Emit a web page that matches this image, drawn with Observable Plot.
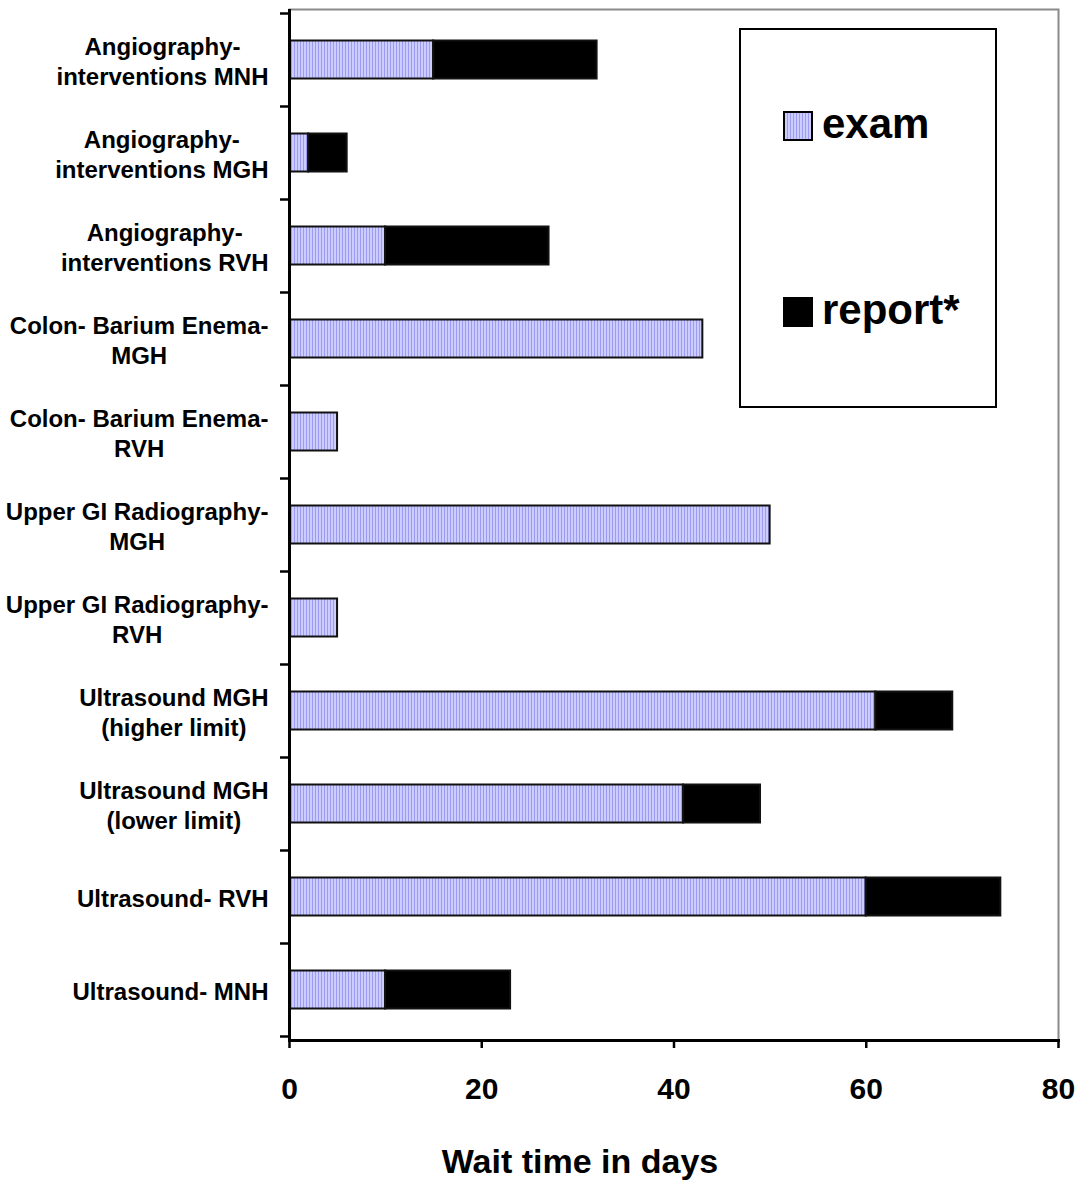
<!DOCTYPE html>
<html>
<head>
<meta charset="utf-8">
<script src="https://cdn.jsdelivr.net/npm/d3@7"></script>
<script src="https://cdn.jsdelivr.net/npm/@observablehq/plot@0.6"></script>
<style>
  body { margin: 0; background: #fff; }
  #wrap { position: relative; width: 1083px; height: 1182px; font-family: "Liberation Sans", Arial, sans-serif; }
  #legend { position: absolute; left: 739px; top: 28px; }
</style>
</head>
<body>
<div id="wrap"></div>
<script>
// ---- data ----
const categories = [
  "Angiography-\ninterventions MNH",
  "Angiography-\ninterventions MGH",
  "Angiography-\ninterventions RVH",
  "Colon- Barium Enema-\nMGH",
  "Colon- Barium Enema-\nRVH",
  "Upper GI Radiography-\nMGH",
  "Upper GI Radiography-\nRVH",
  "Ultrasound MGH\n(higher limit)",
  "Ultrasound MGH\n(lower limit)",
  "Ultrasound- RVH",
  "Ultrasound- MNH"
];
const examDays   = [15, 2, 10, 43, 5, 50, 5, 61, 41, 60, 10];
const reportDays = [17, 4, 17, 0, 0, 0, 0, 8, 8, 14, 13];
const seriesNames = ["exam", "report*"];
const xTicks = [0, 20, 40, 60, 80];
const xTitle = "Wait time in days";

// ---- table for the library ----
const table = categories.flatMap((c, i) => [
  {category: c, series: seriesNames[0], value: examDays[i]},
  {category: c, series: seriesNames[1], value: reportDays[i]}
]).filter(d => d.value > 0);

const FONT = "'Liberation Sans', Arial, Helvetica, sans-serif";

const svg = Plot.plot({
  width: 1083,
  height: 1182,
  marginLeft: 289,
  marginRight: 25,
  marginTop: 9,
  marginBottom: 142,
  style: {fontFamily: FONT, color: "#000", background: "#fff", overflow: "visible"},
  x: {domain: [0, 80], ticks: xTicks},
  y: {domain: categories, padding: 0},
  color: {domain: seriesNames, range: ["url(#examPattern)", "#000"]},
  marks: [
    Plot.frame({stroke: "#8a8a8a", strokeWidth: 2}),
    Plot.barX(table, Plot.stackX({
      y: "category", x: "value", fill: "series",
      stroke: "#111", strokeWidth: 2,
      insetTop: 27.5, insetBottom: 27.5
    })),
    Plot.ruleX([0], {stroke: "#000", strokeWidth: 3}),
    Plot.frame({anchor: "bottom", stroke: "#000", strokeWidth: 3}),
    Plot.axisY({tickSize: 9, tickFormat: () => "", stroke: "#000", strokeWidth: 2.5, label: null}),
    Plot.axisY({tickSize: 0, tickPadding: 21, fontSize: 24, fontWeight: "bold", lineHeight: 1.25, label: null, fill: "#000"}),
    Plot.axisX({ticks: xTicks, tickSize: 8, tickPadding: 29, fontSize: 30, fontWeight: "bold", stroke: "#000", strokeWidth: 2.5, label: null, fill: "#000"}),
    Plot.text([xTitle], {frameAnchor: "bottom", dy: 122, dx: -94, fontSize: 34, fontWeight: "bold", lineAnchor: "middle", fill: "#000"})
  ]
});

document.getElementById("wrap").appendChild(svg);

// pattern for the "exam" fill
d3.select(svg).insert("defs", ":first-child").html(
  '<pattern id="examPattern" patternUnits="userSpaceOnUse" width="3" height="4">' +
  '<rect width="3" height="4" fill="#ccccff"/><rect width="1" height="4" fill="#9c9cf2"/></pattern>'
);

// y ticks sit on the band boundaries
const step = svg.scale("y").step;
svg.querySelectorAll('g[aria-label="y-axis tick"]').forEach(g => {
  if (!g.children.length) return;
  const prev = g.getAttribute("transform") || "";
  g.setAttribute("transform", prev + ` translate(0,${-step / 2})`);
  const last = g.lastElementChild;
  const c = last.cloneNode(true);
  c.setAttribute("transform", (last.getAttribute("transform") || "") + ` translate(0,${step})`);
  g.appendChild(c);
});

// multi-line category labels: lines centred within the right-aligned block
svg.querySelectorAll('g[aria-label="y-axis tick label"] text').forEach(t => {
  const spans = t.querySelectorAll("tspan");
  if (spans.length < 2) return;
  let w = 0;
  spans.forEach(s => { w = Math.max(w, s.getComputedTextLength()); });
  t.setAttribute("text-anchor", "middle");
  spans.forEach(s => s.setAttribute("x", -w / 2));
});

// ---- legend (inside the plot area, as in the original) ----
const lg = d3.select("#wrap").append("svg").attr("id", "legend")
  .attr("width", 258).attr("height", 380)
  .style("font-family", FONT);
lg.append("rect").attr("x", 1).attr("y", 1).attr("width", 256).attr("height", 378)
  .attr("fill", "#fff").attr("stroke", "#000").attr("stroke-width", 2);
const fills = ["url(#examPattern)", "#000"];
const rowTop = [84, 270];
seriesNames.forEach((s, i) => {
  lg.append("rect").attr("x", 45).attr("y", rowTop[i]).attr("width", 28).attr("height", 28)
    .attr("fill", fills[i]).attr("stroke", "#000").attr("stroke-width", 2);
  lg.append("text").attr("x", 83).attr("y", rowTop[i] + 26)
    .attr("font-size", 42).attr("font-weight", "bold").attr("fill", "#000").text(s);
});
</script>
</body>
</html>
